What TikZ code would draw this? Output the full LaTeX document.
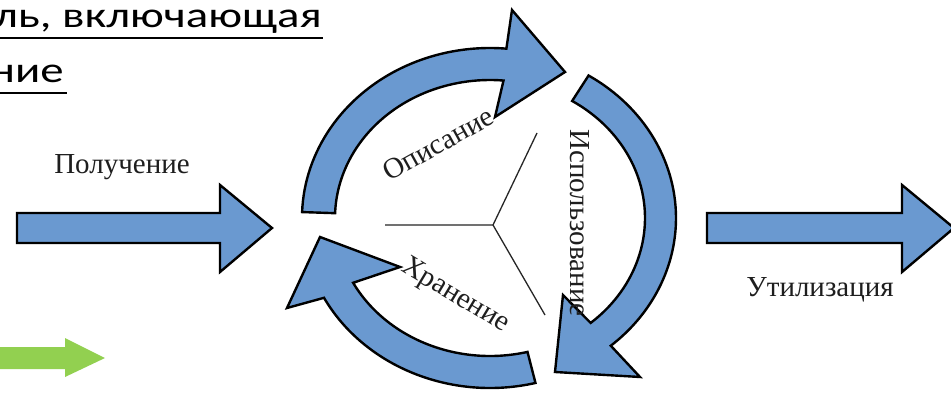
\documentclass[tikz,border=0pt]{standalone}
\usepackage{fontspec}
\setmainfont{Liberation Serif}
\newfontfamily\titlefont{Carlito}
\usetikzlibrary{calc}
\definecolor{arrowblue}{RGB}{106,153,208}
\definecolor{arrowgreen}{RGB}{146,208,80}
\definecolor{inktext}{RGB}{30,30,30}
\tikzset{
  blockarrow/.style={fill=arrowblue, draw=black, line width=2.4pt, line join=miter},
  greenarrow/.style={fill=arrowgreen, draw=none},
  lbl/.style={font=\fontsize{29}{32}\selectfont, text=inktext, inner sep=0pt},
  title/.style={font=\titlefont\fontsize{36}{42}\selectfont, text=black, inner sep=0pt, xscale=1.3},
  spoke/.style={draw=black!85, line width=1.3pt},
  uline/.style={draw=black, line width=2.4pt}
}
\begin{document}
\begin{tikzpicture}[x=1pt,y=1pt]
\useasboundingbox (0,0) rectangle (951,-393);
\clip (0,0) rectangle (951,-393);
\fill[white] (0,0) rectangle (951,-393);

% title fragment
\node[title, anchor=base east] (t1) at (322,-28) {ль, включающая};
\draw[uline] (0,-38) -- (323,-38);
\node[title, anchor=base east] (t2) at (64,-83) {ние};
\draw[uline] (0,-93) -- (67,-93);

% centre of the cycle
\coordinate (C) at (490,-218);

% Y spokes
\coordinate (Y) at (493,-225);
\coordinate (Y1) at (385,-225);
\coordinate (Y2) at (537,-133);
\coordinate (Y3) at (545,-315);
\draw[spoke] (Y1) -- (Y) -- (Y2);
\draw[spoke] (Y) -- (Y3);

% top arc arrow
\draw[blockarrow] (C) ++(178:188 and 170)
  arc[start angle=178, end angle=85, x radius=188, y radius=170]
  -- (512,-10) -- (565,-72) -- (495,-117)
  -- ($(C)+(85:155 and 138)$)
  arc[start angle=85, end angle=178, x radius=155, y radius=138] -- cycle;

% right arc arrow
\draw[blockarrow] (C) ++(58:186 and 168)
  arc[start angle=58, end angle=-49.5, x radius=186, y radius=168]
  -- (640,-377) -- (555,-372) -- (563,-295)
  -- ($(C)+(-49.5:155 and 138)$)
  arc[start angle=-49.5, end angle=58, x radius=155, y radius=138] -- cycle;

% bottom arc arrow
\draw[blockarrow] (C) ++(-76:188 and 170)
  arc[start angle=-76, end angle=-152, x radius=188, y radius=170]
  -- (287,-308) -- (320,-237) -- (400,-267)
  -- ($(C)+(-152:155 and 138)$)
  arc[start angle=-152, end angle=-76, x radius=155, y radius=138] -- cycle;

% straight arrows
\draw[blockarrow] (17,-213) -- (220,-213) -- (220,-185) -- (272,-228)
  -- (220,-272) -- (220,-243) -- (17,-243) -- cycle;
\draw[blockarrow] (707,-213) -- (902,-213) -- (902,-185) -- (954,-228)
  -- (902,-272) -- (902,-243) -- (707,-243) -- cycle;
\fill[greenarrow] (-5,-347) -- (65,-347) -- (65,-338) -- (105,-358)
  -- (65,-377) -- (65,-369) -- (-5,-369) -- cycle;

% labels
\node[lbl] (get) at (122,-167) {Получение};
\node[lbl] (util) at (820,-290) {Утилизация};
\node[lbl, rotate=29] (desc) at (438,-144) {Описание};
\node[lbl, rotate=-31] (store) at (455,-296) {Хранение};
\node[lbl, rotate=-90] (use) at (580,-223) {Использование};
\end{tikzpicture}
\end{document}
